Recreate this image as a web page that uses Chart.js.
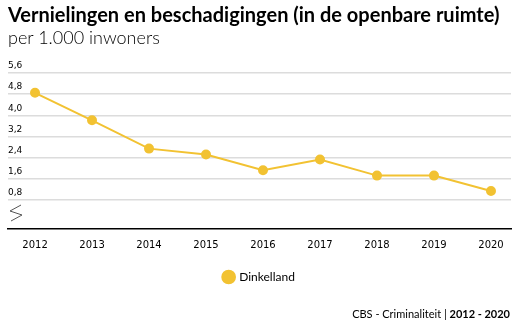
<!DOCTYPE html>
<html>
<head>
<meta charset="utf-8">
<script src="https://cdn.jsdelivr.net/npm/chart.js@4"></script>
<style>
  body { margin: 0; background: #fff; }
  #wrap { position: relative; width: 518px; height: 333px; overflow: hidden; }
  #chart { position: absolute; left: 0; top: 0; }
  .title { position: absolute; left: 8px; top: 2px; font: bold 20px Lato, sans-serif; color: #000; white-space: nowrap; }
  .sub { position: absolute; left: 8px; top: 26px; font: 300 18px Lato, sans-serif; color: #000; white-space: nowrap; }
  .foot { position: absolute; right: 8px; top: 307px; font: 11px Lato, sans-serif; color: #000; white-space: nowrap; }
</style>
</head>
<body>
<div id="wrap">
  <canvas id="chart" width="518" height="333"></canvas>
  <div class="title">Vernielingen en beschadigingen (in de openbare ruimte)</div>
  <div class="sub">per 1.000 inwoners</div>
  <div class="foot">CBS - Criminaliteit | <b>2012 - 2020</b></div>
</div>
<script>
// chart data
const years = ['2012', '2013', '2014', '2015', '2016', '2017', '2018', '2019', '2020'];
const dinkelland = [4.85, 3.81, 2.74, 2.52, 1.92, 2.33, 1.72, 1.72, 1.14];
const yTicks = [0.8, 1.6, 2.4, 3.2, 4.0, 4.8, 5.6];

const YELLOW = '#f2c232';

// zig-zag "axis break" mark at the bottom left
const breakMark = {
    id: 'breakMark',
    afterDraw(chart) {
        const c = chart.ctx;
        const x = chart.chartArea.left;
        const y = chart.chartArea.bottom;
        c.save();
        c.strokeStyle = '#555';
        c.lineWidth = 1;
        c.beginPath();
        c.moveTo(x + 13, y - 24);
        c.lineTo(x + 2, y - 18);
        c.lineTo(x + 14, y - 14);
        c.lineTo(x + 3, y - 8);
        c.stroke();
        c.restore();
    }
};

new Chart(document.getElementById('chart'), {
    type: 'line',
    data: {
        datasets: [{
            label: 'Dinkelland',
            data: dinkelland.map((v, i) => ({ x: i, y: v })),
            borderColor: YELLOW,
            backgroundColor: YELLOW,
            pointBackgroundColor: YELLOW,
            pointBorderColor: YELLOW,
            pointRadius: 4,
            borderWidth: 2,
            tension: 0,
        }]
    },
    options: {
        responsive: false,
        animation: false,
        layout: { padding: { top: 73, left: 8, right: 7, bottom: 40 } },
        plugins: {
            legend: {
                position: 'bottom',
                labels: {
                    usePointStyle: true,
                    pointStyle: 'circle',
                    boxWidth: 9,
                    boxHeight: 9,
                    padding: 18,
                    color: '#000',
                    font: { family: 'Lato, sans-serif', size: 12 }
                }
            },
            tooltip: { enabled: false }
        },
        scales: {
            x: {
                type: 'linear',
                min: -0.474,
                max: 8.351,
                afterBuildTicks: scale => { scale.ticks = years.map((y, i) => ({ value: i })); },
                grid: { display: false },
                border: { display: true, color: '#000', width: 1.5 },
                ticks: {
                    color: '#000',
                    padding: 2,
                    font: { family: 'DejaVu Sans, sans-serif', size: 10 },
                    callback: v => years[v]
                }
            },
            y: {
                min: -0.3,
                max: 5.6,
                afterBuildTicks: scale => { scale.ticks = yTicks.map(v => ({ value: v })); },
                grid: { color: '#dcdcdc', lineWidth: 1.5, drawTicks: false },
                border: { display: false },
                ticks: {
                    mirror: true,
                    padding: 0,
                    labelOffset: -7,
                    color: '#000',
                    font: { family: 'DejaVu Sans, sans-serif', size: 9 },
                    callback: v => v.toFixed(1).replace('.', ',')
                }
            }
        }
    },
    plugins: [breakMark]
});
</script>
</body>
</html>
